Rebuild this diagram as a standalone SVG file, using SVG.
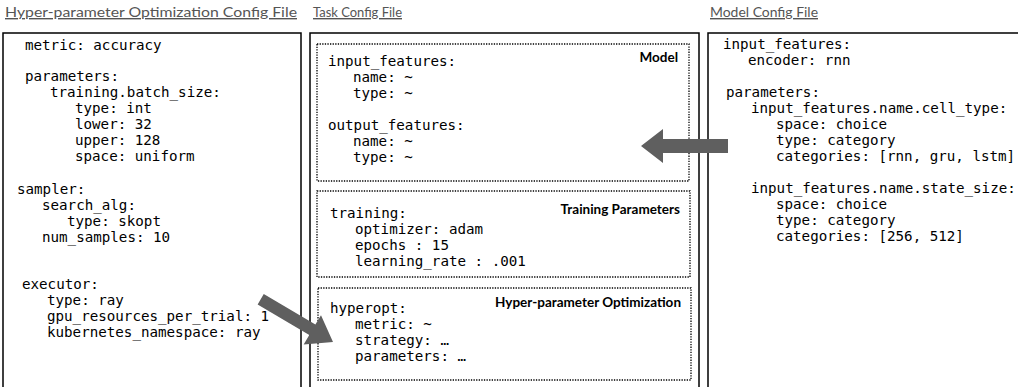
<svg xmlns="http://www.w3.org/2000/svg" width="1018" height="387" viewBox="0 0 1018 387">
<style>
.title{font-family:Lato,"Liberation Sans",sans-serif;font-size:14px;fill:#555;text-decoration:underline}
.code{font-family:"DejaVu Sans Mono","Liberation Mono",monospace;font-size:14.2px;fill:#000}
.lbl{font-family:Lato,"Liberation Sans",sans-serif;font-size:13.5px;font-weight:bold;fill:#000;text-anchor:end}
.box{fill:#fff;stroke:#000;stroke-width:1.5}
.dot{fill:none;stroke:#000;stroke-width:1.3;stroke-dasharray:1.3 1.3}
.arrow{fill:#5f5f5f}
</style>
<text class="title" x="5" y="17" textLength="292" lengthAdjust="spacingAndGlyphs">Hyper-parameter Optimization Config File</text>
<text class="title" x="313" y="17" textLength="89" lengthAdjust="spacingAndGlyphs">Task Config File</text>
<text class="title" x="710" y="17" textLength="108" lengthAdjust="spacingAndGlyphs">Model Config File</text>

<g id="hyperopt-config">
<rect class="box" x="3" y="33" width="298" height="370"/>
<text class="code" x="25" y="50">metric: accuracy</text>
<text class="code" x="25" y="81">parameters:</text>
<text class="code" x="50" y="97">training.batch_size:</text>
<text class="code" x="75" y="113">type: int</text>
<text class="code" x="75" y="129">lower: 32</text>
<text class="code" x="75" y="145">upper: 128</text>
<text class="code" x="75" y="161">space: uniform</text>
<text class="code" x="17" y="194">sampler:</text>
<text class="code" x="42" y="210">search_alg:</text>
<text class="code" x="67" y="226">type: skopt</text>
<text class="code" x="42" y="242">num_samples: 10</text>
<text class="code" x="22" y="289">executor:</text>
<text class="code" x="47" y="305">type: ray</text>
<text class="code" x="47" y="321">gpu_resources_per_trial: 1</text>
<text class="code" x="47" y="337">kubernetes_namespace: ray</text>
</g>

<g id="task-config">
<rect class="box" x="310" y="33" width="389" height="370"/>
<g id="model-section">
<rect class="dot" x="317" y="44" width="372" height="137"/>
<text class="lbl" x="678" y="62">Model</text>
<text class="code" x="328" y="66">input_features:</text>
<text class="code" x="353" y="82">name: ~</text>
<text class="code" x="353" y="98">type: ~</text>
<text class="code" x="328" y="130">output_features:</text>
<text class="code" x="353" y="146">name: ~</text>
<text class="code" x="353" y="162">type: ~</text>
</g>
<g id="training-section">
<rect class="dot" x="317" y="191" width="373" height="86"/>
<text class="lbl" x="680" y="214">Training Parameters</text>
<text class="code" x="330" y="218">training:</text>
<text class="code" x="355" y="234">optimizer: adam</text>
<text class="code" x="355" y="250">epochs : 15</text>
<text class="code" x="355" y="266">learning_rate : .001</text>
</g>
<g id="hyperopt-section">
<rect class="dot" x="318" y="288" width="373" height="92"/>
<text class="lbl" x="681" y="307">Hyper-parameter Optimization</text>
<text class="code" x="330" y="313">hyperopt:</text>
<text class="code" x="355" y="329">metric: ~</text>
<text class="code" x="355" y="345">strategy: …</text>
<text class="code" x="355" y="361">parameters: …</text>
</g>
</g>

<g id="model-config">
<rect class="box" x="708" y="33" width="320" height="370"/>
<text class="code" x="723" y="49">input_features:</text>
<text class="code" x="748" y="65">encoder: rnn</text>
<text class="code" x="726" y="97">parameters:</text>
<text class="code" x="751" y="113">input_features.name.cell_type:</text>
<text class="code" x="776" y="129">space: choice</text>
<text class="code" x="776" y="145">type: category</text>
<text class="code" x="776" y="161">categories: [rnn, gru, lstm]</text>
<text class="code" x="751" y="193">input_features.name.state_size:</text>
<text class="code" x="776" y="209">space: choice</text>
<text class="code" x="776" y="225">type: category</text>
<text class="code" x="776" y="241">categories: [256, 512]</text>
</g>

<g id="connectors">
<polygon class="arrow" points="728,139 663,139 663,129 641,146 663,163 663,153 728,153"/>
<polygon class="arrow" transform="translate(333,342) rotate(30.6)" points="0,0 -24,-17 -24,-6 -84,-6 -84,6 -24,6 -24,17"/>
</g>
</svg>
